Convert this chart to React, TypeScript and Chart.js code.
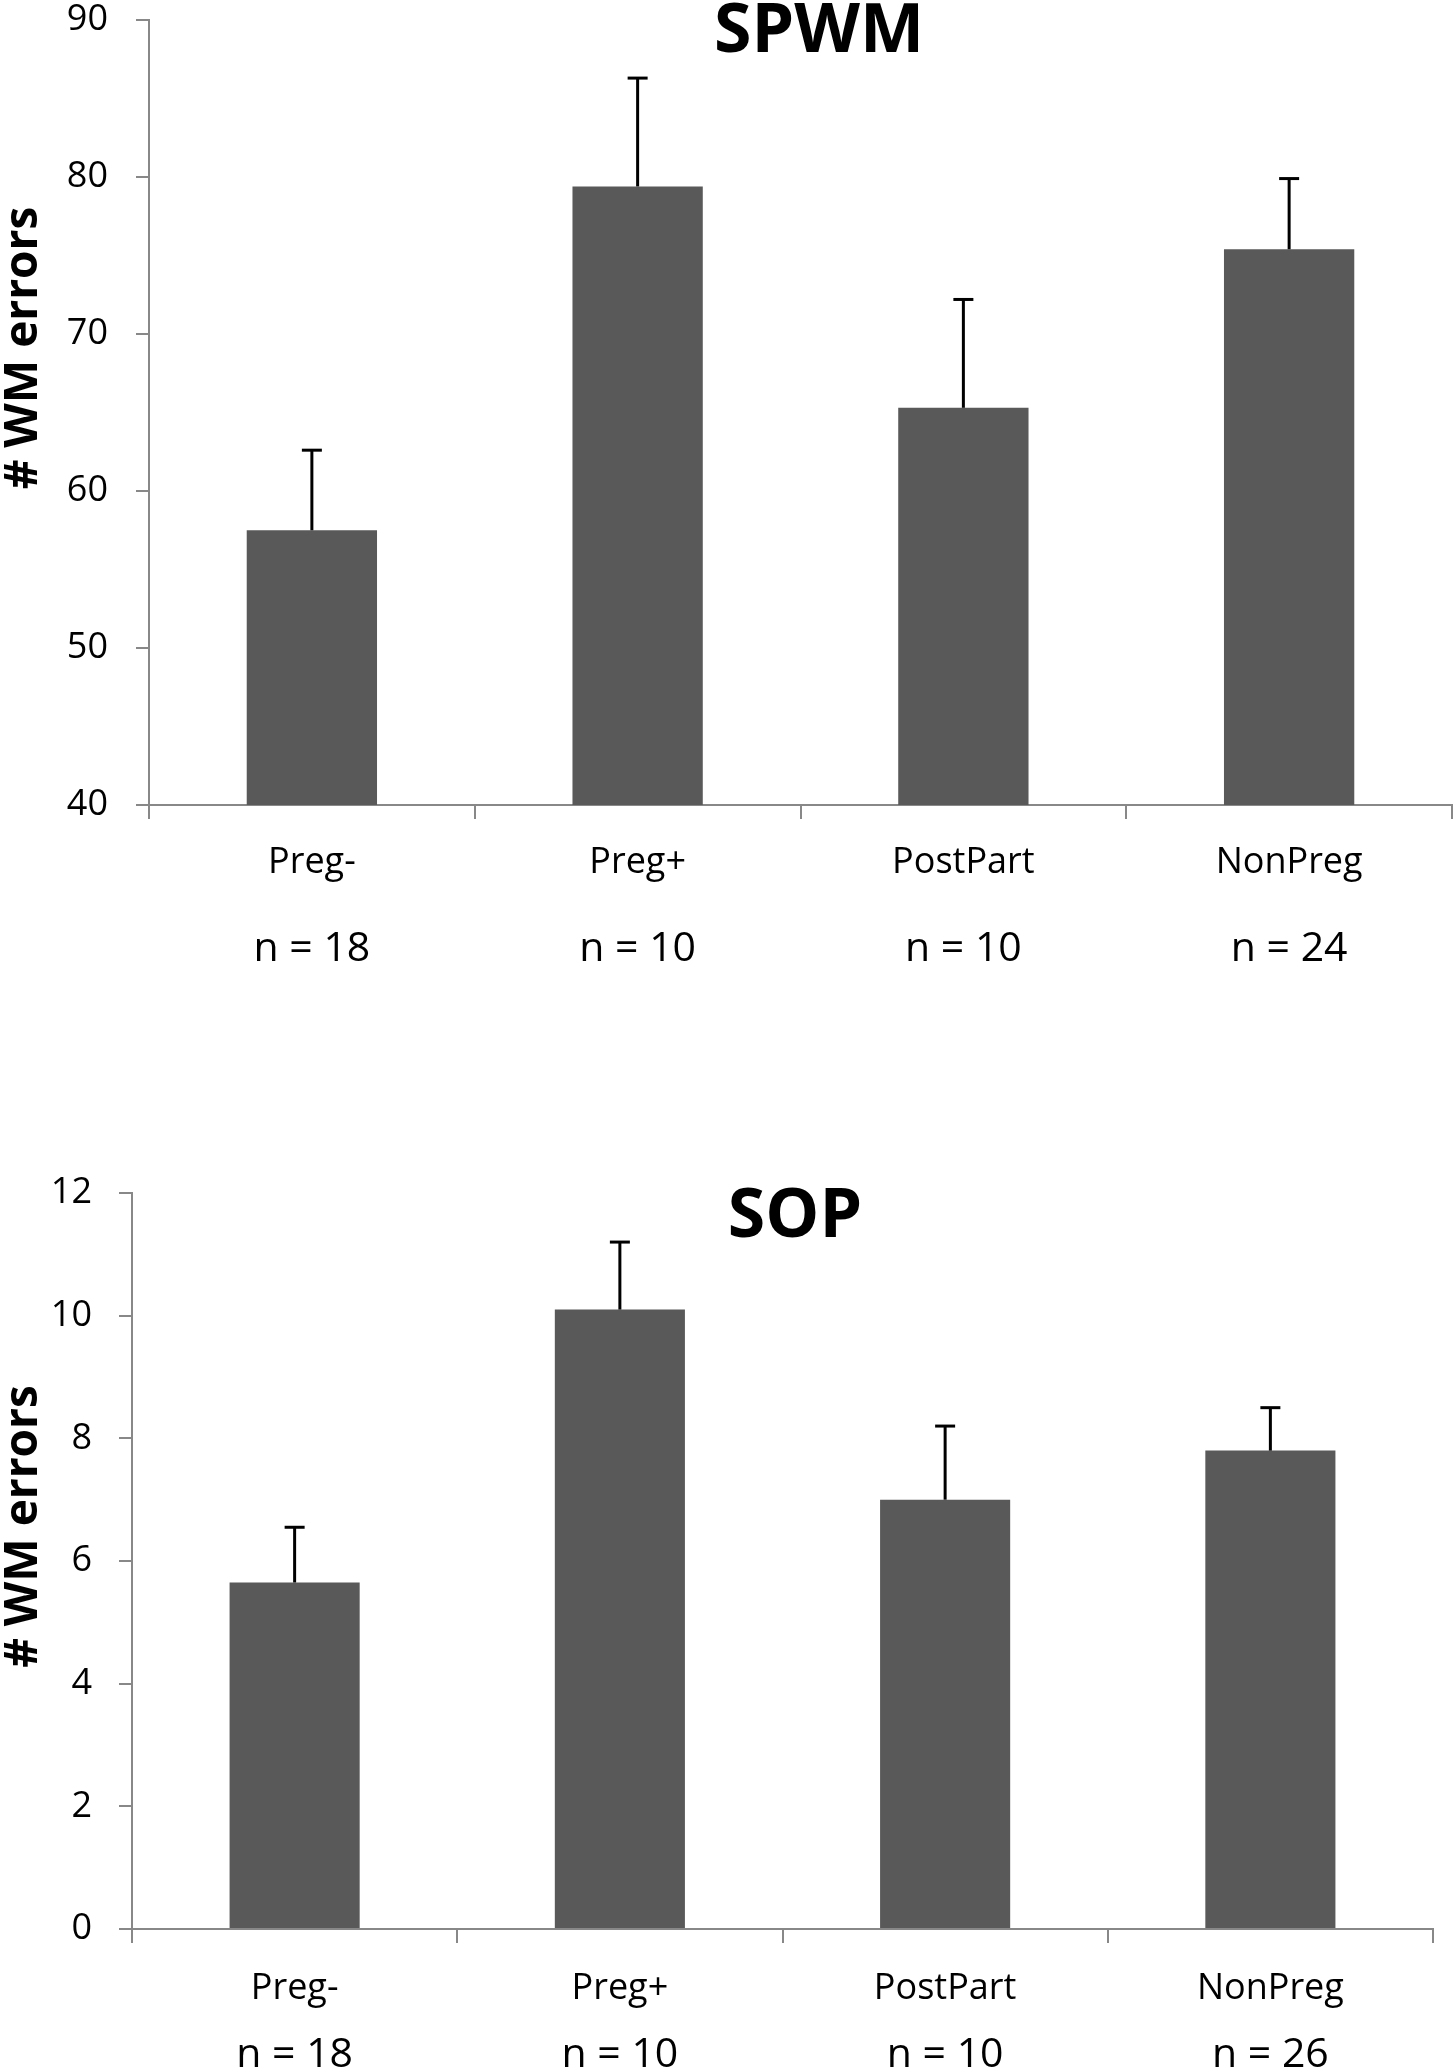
import React, { useEffect, useRef } from "react";
import { Chart, registerables } from "chart.js";

Chart.register(...registerables);

// ---- data ----
const categories = ["Preg-", "Preg+", "PostPart", "NonPreg"];

const spwmTitle = "SPWM";
const spwmN = ["n = 18", "n = 10", "n = 10", "n = 24"];
const spwmMeans = [57.5, 79.4, 65.3, 75.4];
const spwmErrors = [5.1, 6.9, 6.9, 4.5];
const spwmTicks = [40, 50, 60, 70, 80, 90];

const sopTitle = "SOP";
const sopN = ["n = 18", "n = 10", "n = 10", "n = 26"];
const sopMeans = [5.65, 10.1, 7.0, 7.8];
const sopErrors = [0.9, 1.1, 1.2, 0.7];
const sopTicks = [0, 2, 4, 6, 8, 10, 12];

const yAxisTitle = "# WM errors";

// ---- styles ----
const FONT = "'Open Sans', 'DejaVu Sans', sans-serif";
const AXIS_GRAY = "#888888";
const BAR_GRAY = "#595959";

const errorBarPlugin = {
  id: "errorBars",
  afterDatasetsDraw(chart: any, _args: any, opts: any) {
    const meta = chart.getDatasetMeta(0);
    const yScale = chart.scales.y;
    const vals = chart.data.datasets[0].data as number[];
    const errs = opts.errors as number[];
    const ctx = chart.ctx;
    ctx.save();
    ctx.strokeStyle = "#000";
    ctx.lineWidth = 3;
    ctx.lineCap = "butt";
    meta.data.forEach((bar: any, i: number) => {
      const x = bar.x;
      const yTop = yScale.getPixelForValue(vals[i] + errs[i]);
      ctx.beginPath();
      ctx.moveTo(x, bar.y);
      ctx.lineTo(x, yTop);
      ctx.stroke();
      ctx.beginPath();
      ctx.moveTo(x - 10, yTop);
      ctx.lineTo(x + 10, yTop);
      ctx.stroke();
    });
    ctx.restore();
  },
};

const panelTextPlugin = {
  id: "panelText",
  afterDraw(chart: any, _args: any, opts: any) {
    const ctx = chart.ctx;
    ctx.save();
    ctx.fillStyle = "#000";
    // chart title
    ctx.font = `bold ${opts.titleSize}px ${FONT}`;
    ctx.textAlign = "center";
    ctx.textBaseline = "alphabetic";
    ctx.fillText(opts.title, opts.titleX, opts.titleBaseline);
    // y axis title (rotated)
    ctx.translate(opts.yTitleBaselineX, opts.yTitleCenterY);
    ctx.rotate(-Math.PI / 2);
    ctx.font = `bold ${opts.yTitleSize}px ${FONT}`;
    ctx.textAlign = "center";
    ctx.textBaseline = "alphabetic";
    ctx.fillText(opts.yTitle, 0, 0);
    ctx.restore();
  },
};

type PanelProps = {
  top: number;
  height: number;
  means: number[];
  errors: number[];
  nLabels: string[];
  ticks: number[];
  title: string;
  padTop: number;
  padRight: number;
  yWidth: number;
  xHeight: number;
  x2Height: number;
  xTickPad: number;
  x2TickPad: number;
  yTickPad: number;
  titleX: number;
  titleBaseline: number;
  yTitleCenterY: number;
};

function Panel(p: PanelProps) {
  const ref = useRef<HTMLCanvasElement>(null);
  useEffect(() => {
    const chart = new Chart(ref.current as HTMLCanvasElement, {
      type: "bar",
      data: {
        labels: categories,
        datasets: [
          {
            data: p.means,
            xAxisID: "x",
            yAxisID: "y",
            backgroundColor: BAR_GRAY,
            borderWidth: 0,
            categoryPercentage: 1,
            barPercentage: 0.4,
          },
        ],
      },
      options: {
        responsive: false,
        animation: false,
        devicePixelRatio: 1,
        layout: { padding: { top: p.padTop, right: p.padRight, left: 0, bottom: 0 } },
        plugins: {
          legend: { display: false },
          tooltip: { enabled: false },
          title: { display: false },
          errorBars: { errors: p.errors },
          panelText: {
            title: p.title,
            titleSize: 68,
            titleX: p.titleX,
            titleBaseline: p.titleBaseline,
            yTitle: yAxisTitle,
            yTitleSize: 46,
            yTitleBaselineX: 36.5,
            yTitleCenterY: p.yTitleCenterY,
          },
        } as any,
        scales: {
          x: {
            type: "category",
            position: "bottom",
            weight: 0,
            offset: true,
            grid: {
              display: true,
              offset: true,
              drawOnChartArea: false,
              drawTicks: true,
              tickLength: 14,
              color: AXIS_GRAY,
              lineWidth: 2,
            },
            border: { display: true, color: AXIS_GRAY, width: 2 },
            ticks: {
              autoSkip: false,
              maxRotation: 0,
              minRotation: 0,
              padding: p.xTickPad,
              color: "#000",
              font: { family: FONT, size: 36, lineHeight: 1.2 },
            },
            afterFit: (s: any) => {
              s.height = p.xHeight;
              s.paddingLeft = 0;
              s.paddingRight = 0;
            },
          },
          x2: {
            type: "category",
            position: "bottom",
            weight: 1,
            labels: p.nLabels,
            offset: true,
            grid: { display: false, drawOnChartArea: false, drawTicks: false },
            border: { display: false },
            ticks: {
              autoSkip: false,
              maxRotation: 0,
              minRotation: 0,
              padding: p.x2TickPad,
              color: "#000",
              font: { family: FONT, size: 41, lineHeight: 1.2 },
            },
            afterFit: (s: any) => {
              s.height = p.x2Height;
              s.paddingLeft = 0;
              s.paddingRight = 0;
            },
          },
          y: {
            min: p.ticks[0],
            max: p.ticks[p.ticks.length - 1],
            grid: {
              display: true,
              drawOnChartArea: false,
              drawTicks: true,
              tickLength: 13,
              color: AXIS_GRAY,
              lineWidth: 2,
            },
            border: { display: true, color: AXIS_GRAY, width: 2 },
            ticks: {
              stepSize: p.ticks[1] - p.ticks[0],
              padding: p.yTickPad,
              color: "#000",
              font: { family: FONT, size: 36 },
            },
            afterFit: (s: any) => {
              s.width = p.yWidth;
              s.paddingTop = 0;
              s.paddingBottom = 0;
            },
          },
        } as any,
      },
      plugins: [errorBarPlugin, panelTextPlugin],
    });
    return () => chart.destroy();
  }, []);
  return (
    <canvas
      ref={ref}
      width={1453}
      height={p.height}
      style={{ position: "absolute", left: 0, top: p.top, width: 1453, height: p.height, display: "block" }}
    />
  );
}

export default function App() {
  return (
    <div style={{ position: "absolute", left: 0, top: 0, width: 1453, height: 2070, background: "#fff", overflow: "hidden" }}>
      <Panel
        top={0}
        height={1035}
        means={spwmMeans}
        errors={spwmErrors}
        nLabels={spwmN}
        ticks={spwmTicks}
        title={spwmTitle}
        padTop={20}
        padRight={1}
        yWidth={149}
        xHeight={100}
        x2Height={130}
        xTickPad={22.4}
        x2TickPad={19.4}
        yTickPad={28}
        titleX={819}
        titleBaseline={52}
        yTitleCenterY={348}
      />
      <Panel
        top={1035}
        height={1035}
        means={sopMeans}
        errors={sopErrors}
        nLabels={sopN}
        ticks={sopTicks}
        title={sopTitle}
        padTop={158}
        padRight={20}
        yWidth={132}
        xHeight={80}
        x2Height={61}
        xTickPad={23.9}
        x2TickPad={21.4}
        yTickPad={27}
        titleX={795}
        titleBaseline={202}
        yTitleCenterY={491.5}
      />
    </div>
  );
}
